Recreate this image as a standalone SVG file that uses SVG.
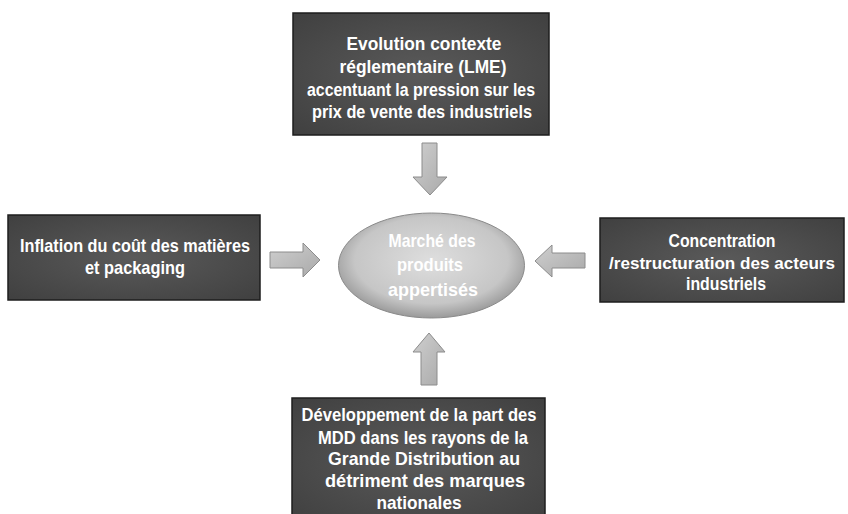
<svg xmlns="http://www.w3.org/2000/svg" width="848" height="514" viewBox="0 0 848 514">
  <defs>
    <radialGradient id="boxFill" cx="50%" cy="50%" r="70%">
      <stop offset="0" stop-color="#5a5a5a"/>
      <stop offset="1" stop-color="#404040"/>
    </radialGradient>
    <radialGradient id="ovalFill" cx="50%" cy="45%" r="55%">
      <stop offset="0" stop-color="#dedede"/>
      <stop offset="0.75" stop-color="#c6c6c6"/>
      <stop offset="1" stop-color="#9a9a9a"/>
    </radialGradient>
    <linearGradient id="arrowFill" x1="0" y1="0" x2="1" y2="1">
      <stop offset="0" stop-color="#cfcfcf"/>
      <stop offset="1" stop-color="#a9a9a9"/>
    </linearGradient>
  </defs>
  <style>
    .box { fill: url(#boxFill); stroke: #1e1e1e; stroke-width: 1.5; }
    .oval { fill: url(#ovalFill); stroke: #8a8a8a; stroke-width: 1; }
    .lbl { font-family: "Liberation Sans", Arial, sans-serif; font-weight: bold; font-size: 18.5px; fill: #ffffff; text-anchor: middle; }
    .narrow { font-size: 17px; }
    .arrow { fill: url(#arrowFill); stroke: #8c8c8c; stroke-width: 1; stroke-linejoin: miter; }
  </style>

  <rect width="848" height="514" fill="#ffffff"/>

  <!-- regulatory context -->
  <g id="node-lme">
    <rect class="box" x="293" y="13" width="256" height="122"/>
    <text class="lbl" x="424" y="50" textLength="155" lengthAdjust="spacingAndGlyphs">Evolution contexte</text>
    <text class="lbl" x="423" y="73" textLength="167" lengthAdjust="spacingAndGlyphs">réglementaire (LME)</text>
    <text class="lbl" x="421" y="96" textLength="228" lengthAdjust="spacingAndGlyphs">accentuant la pression sur les</text>
    <text class="lbl" x="422" y="118" textLength="220" lengthAdjust="spacingAndGlyphs">prix de vente des industriels</text>
  </g>

  <!-- raw material inflation -->
  <g id="node-inflation">
    <rect class="box" x="8" y="215" width="252" height="85"/>
    <text class="lbl" x="135" y="252" textLength="230" lengthAdjust="spacingAndGlyphs">Inflation du coût des matières</text>
    <text class="lbl" x="135" y="274" textLength="100" lengthAdjust="spacingAndGlyphs">et packaging</text>
  </g>

  <!-- industry concentration -->
  <g id="node-concentration">
    <rect class="box" x="600" y="218" width="244" height="84"/>
    <text class="lbl" x="722" y="247" textLength="107" lengthAdjust="spacingAndGlyphs">Concentration</text>
    <text class="lbl narrow" x="722" y="269" textLength="226" lengthAdjust="spacingAndGlyphs">/restructuration des acteurs</text>
    <text class="lbl" x="726" y="290" textLength="80" lengthAdjust="spacingAndGlyphs">industriels</text>
  </g>

  <!-- private labels -->
  <g id="node-mdd">
    <rect class="box" x="292" y="398" width="253" height="124"/>
    <text class="lbl" x="419" y="421" textLength="235" lengthAdjust="spacingAndGlyphs">Développement de la part des</text>
    <text class="lbl" x="423" y="444" textLength="210" lengthAdjust="spacingAndGlyphs">MDD dans les rayons de la</text>
    <text class="lbl" x="424" y="465" textLength="192" lengthAdjust="spacingAndGlyphs">Grande Distribution au</text>
    <text class="lbl" x="425" y="487" textLength="200" lengthAdjust="spacingAndGlyphs">détriment des marques</text>
    <text class="lbl" x="419" y="509" textLength="85" lengthAdjust="spacingAndGlyphs">nationales</text>
  </g>

  <!-- central market -->
  <g id="node-market">
    <ellipse class="oval" cx="431.5" cy="265.5" rx="93" ry="52.5"/>
    <text class="lbl" x="432" y="247" textLength="87" lengthAdjust="spacingAndGlyphs">Marché des</text>
    <text class="lbl" x="430" y="271" textLength="66" lengthAdjust="spacingAndGlyphs">produits</text>
    <text class="lbl" x="433" y="296" textLength="90" lengthAdjust="spacingAndGlyphs">appertisés</text>
  </g>

  <!-- block arrows pointing at the market -->
  <g id="connectors">
    <path class="arrow" d="M422,143 H437 V177 H447 L430,195 L413,177 H422 Z"/>
    <path class="arrow" d="M270,252 H303 V243 L320,260 L303,277 V268 H270 Z"/>
    <path class="arrow" d="M585,253 H552 V245 L535,261 L552,277 V268 H585 Z"/>
    <path class="arrow" d="M421,385 V352 H413 L429,333 L445,352 H437 V385 Z"/>
  </g>
</svg>
